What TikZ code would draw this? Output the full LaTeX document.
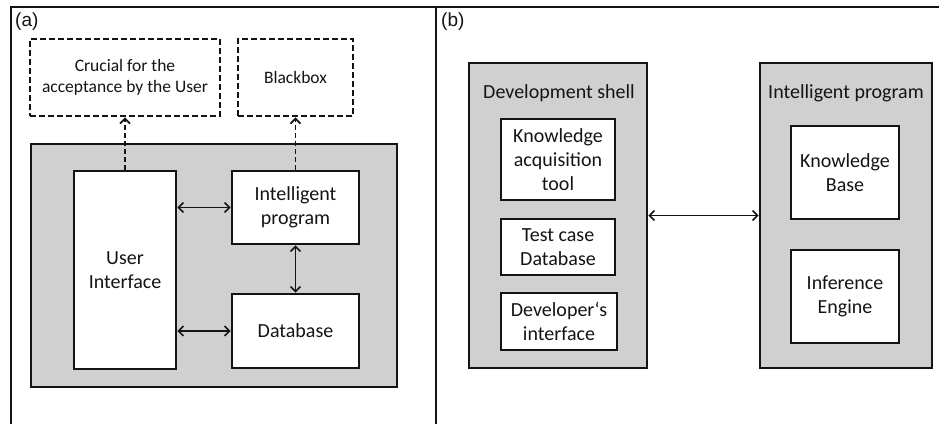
\documentclass[tikz,border=0pt]{standalone}
\usepackage{fontspec}
\setmainfont{Carlito}
\newfontfamily\labelfont{Liberation Sans}
\usetikzlibrary{arrows.meta}
\definecolor{panelgray}{RGB}{208,208,208}
\definecolor{inkblack}{RGB}{20,20,20}
\tikzset{
  frame/.style={draw=inkblack, line width=2.2pt},
  graybox/.style={draw=inkblack, fill=panelgray, line width=2.6pt, inner sep=0pt},
  whitebox/.style={draw=inkblack, fill=white, line width=2.6pt, align=center,
    inner sep=0pt, font=\fontsize{20}{24}\selectfont, text=inkblack},
  dashbox/.style={draw=inkblack, fill=white, line width=2.6pt, align=center,
    inner sep=0pt, dash pattern=on 6pt off 3pt,
    font=\fontsize{17.5}{21}\selectfont, text=inkblack},
  heading/.style={font=\fontsize{20}{24}\selectfont, text=inkblack, inner sep=0pt},
  panellabel/.style={font=\labelfont\fontsize{19}{22}\selectfont, text=inkblack, inner sep=0pt},
  link/.style={draw=inkblack, line width=1.6pt, {Straight Barb[length=5pt,width=10pt]}-{Straight Barb[length=5pt,width=10pt]}},
  dashlink/.style={draw=inkblack, line width=1.8pt, dash pattern=on 5pt off 3pt,
    -{Straight Barb[length=5pt,width=10pt]}}
}
\begin{document}
\begin{tikzpicture}[x=1pt,y=-1pt]
  \useasboundingbox (0,0) rectangle (939,423);
  \fill[white] (0,0) rectangle (939,423);

  % panel frames (open towards the lower and right edges)
  \draw[frame] (11,440) -- (11,7) -- (950,7);
  \draw[frame] (436,7) -- (436,440);

  \node[panellabel, anchor=west] (laba) at (15,22) {(a)};
  \node[panellabel, anchor=west] (labb) at (441,22) {(b)};

  % ---- panel (a) ----
  \node[dashbox, minimum width=190pt, minimum height=77pt] (crucial) at (125,77.5)
    {Crucial for the\\acceptance by the User};
  \node[dashbox, minimum width=115pt, minimum height=77pt] (blackbox) at (295.5,77.5)
    {Blackbox};

  \node[graybox, minimum width=366pt, minimum height=243pt] (system) at (214,265.5) {};

  \node[whitebox, minimum width=102pt, minimum height=198pt] (ui) at (125,270)
    {User\\Interface};
  \node[whitebox, minimum width=127pt, minimum height=73pt] (ip) at (295.5,207.5)
    {Intelligent\\program};
  \node[whitebox, minimum width=127pt, minimum height=74pt] (db) at (295.5,331)
    {Database};

  \draw[link] (ui.east |- ip.west) -- (ip.west);
  \draw[link] (ui.east |- db.west) -- (db.west);
  \draw[link] (ip.south) -- (db.north);
  \draw[dashlink] (ui.north) -- (crucial.south);
  \draw[dashlink] (ip.north) -- (blackbox.south);

  % ---- panel (b) ----
  \node[graybox, minimum width=178pt, minimum height=305pt] (shell) at (558,215.5) {};
  \node[heading] (shelltitle) at (559,93) {Development shell};
  \node[whitebox, minimum width=114pt, minimum height=81pt] (kat) at (558,159.5)
    {Knowledge\\acquisition\\tool};
  \node[whitebox, minimum width=114pt, minimum height=56pt] (tcd) at (558,247)
    {Test case\\Database};
  \node[whitebox, minimum width=116pt, minimum height=57pt] (dev) at (559,321.5)
    {Developer‘s\\interface};

  \node[graybox, minimum width=172pt, minimum height=305pt] (prog) at (846,215.5) {};
  \node[heading] (progtitle) at (846,93) {Intelligent program};
  \node[whitebox, minimum width=108pt, minimum height=93pt] (kb) at (845,172.5)
    {Knowledge\\Base};
  \node[whitebox, minimum width=108pt, minimum height=93pt] (ie) at (845,296.5)
    {Inference\\Engine};

  \draw[link] (shell.east) -- (prog.west);
\end{tikzpicture}
\end{document}
